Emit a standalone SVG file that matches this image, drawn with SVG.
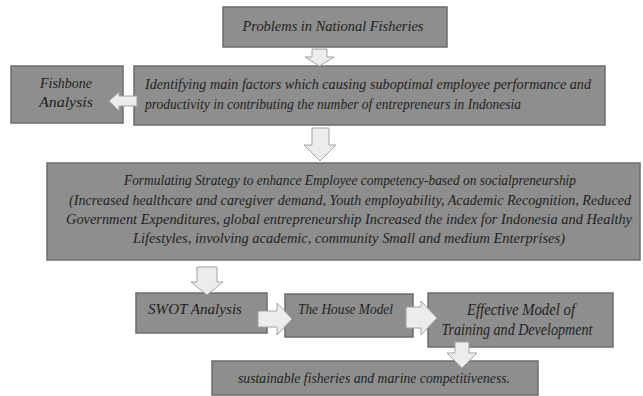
<svg xmlns="http://www.w3.org/2000/svg" width="643" height="396" viewBox="0 0 643 396">
<style>
.box{fill:#8e8e8e;stroke:#6c6c6c;stroke-width:1.5}
.t{font-family:"Liberation Serif","DejaVu Serif",serif;font-style:italic;font-size:15px;fill:#1e1e1e}
.s{font-size:14px}
.arr{fill:#ececec;stroke:#a2a2a2;stroke-width:1}
</style>
<rect width="643" height="396" fill="#fff"/>
<g id="problems">
<rect class="box" x="223" y="7" width="224" height="40"/>
<text class="t" x="333" y="31" text-anchor="middle" textLength="181" lengthAdjust="spacingAndGlyphs">Problems in National Fisheries</text>
</g>
<g id="identifying">
<rect class="box" x="134" y="66" width="471" height="59"/>
<text class="t" x="145" y="89" textLength="446" lengthAdjust="spacingAndGlyphs">Identifying  main factors which causing suboptimal employee performance and</text>
<text class="t" x="145" y="109" textLength="376" lengthAdjust="spacingAndGlyphs">productivity in contributing the number of entrepreneurs in Indonesia</text>
</g>
<g id="fishbone">
<rect class="box" x="11" y="66" width="112" height="57"/>
<text class="t" x="66" y="88" text-anchor="middle" textLength="52" lengthAdjust="spacingAndGlyphs">Fishbone</text>
<text class="t" x="66" y="107" text-anchor="middle" textLength="54" lengthAdjust="spacingAndGlyphs">Analysis</text>
</g>
<g id="formulating">
<rect class="box" x="47" y="163" width="593" height="97"/>
<text class="t" x="350" y="185" text-anchor="middle" textLength="452" lengthAdjust="spacingAndGlyphs">Formulating Strategy to enhance Employee competency-based on socialpreneurship</text>
<text class="t s" x="350" y="205" text-anchor="middle" textLength="562" lengthAdjust="spacingAndGlyphs">(Increased healthcare and caregiver demand, Youth employability, Academic Recognition, Reduced</text>
<text class="t s" x="349" y="224" text-anchor="middle" textLength="566" lengthAdjust="spacingAndGlyphs">Government Expenditures, global entrepreneurship Increased the index for Indonesia and Healthy</text>
<text class="t" x="349" y="243" text-anchor="middle" textLength="432" lengthAdjust="spacingAndGlyphs">Lifestyles, involving academic, community Small and medium Enterprises)</text>
</g>
<g id="swot">
<rect class="box" x="136" y="293" width="131" height="40"/>
<text class="t" x="148" y="314" textLength="94" lengthAdjust="spacingAndGlyphs">SWOT Analysis</text>
</g>
<g id="house">
<rect class="box" x="285" y="294" width="128" height="43"/>
<text class="t" x="298" y="314" textLength="95" lengthAdjust="spacingAndGlyphs">The House Model</text>
</g>
<g id="effective">
<rect class="box" x="428" y="293" width="185" height="54"/>
<text class="t" x="521" y="315" text-anchor="middle" style="font-size:17px" textLength="108" lengthAdjust="spacingAndGlyphs">Effective Model of</text>
<text class="t" x="517" y="335" text-anchor="middle" style="font-size:17px" textLength="151" lengthAdjust="spacingAndGlyphs">Training and Development</text>
</g>
<g id="sustainable">
<rect class="box" x="212" y="361" width="326" height="34"/>
<text class="t" x="374" y="383" text-anchor="middle" textLength="272" lengthAdjust="spacingAndGlyphs">sustainable fisheries and marine competitiveness.</text>
</g>
<g id="connectors">
<polygon class="arr" points="312,49 327,49 327,57 334,57 319.5,66 305,57 312,57"/>
<polygon class="arr" points="312,128 329,128 329,145 336,145 320,161 304,145 312,145"/>
<polygon class="arr" points="137,96 119,96 119,92 109,101 119,111 119,106 137,106"/>
<polygon class="arr" points="197,267 217,267 217,282 223,282 207,295 191,282 197,282"/>
<polygon class="arr" points="258,311 277,311 277,303 292,319 277,335 277,327 258,327"/>
<polygon class="arr" points="406,307 421,307 421,301 437,318 421,335 421,328 406,328"/>
<polygon class="arr" points="455,342 469,342 469,353 477,353 462,368 447,353 455,353"/>
</g>
</svg>
